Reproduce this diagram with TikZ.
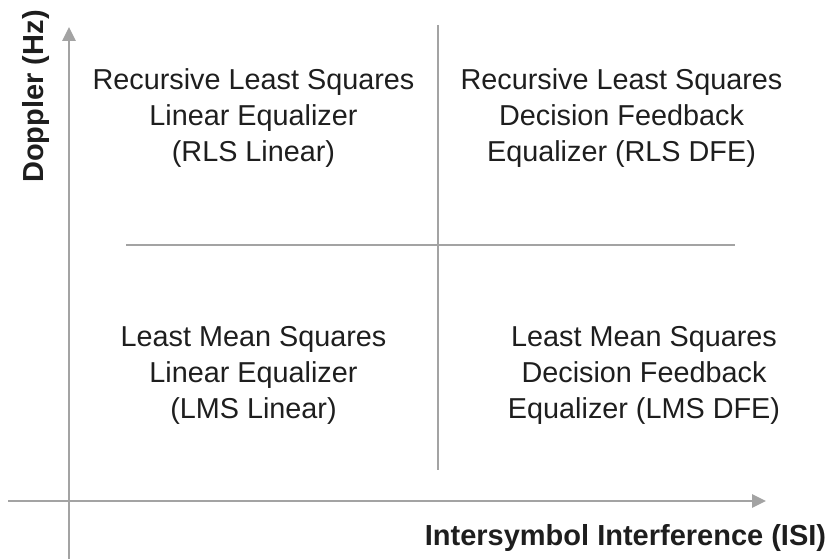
\documentclass[tikz,border=0pt]{standalone}
\usepackage{fontspec}
\setmainfont{Liberation Sans}
\usetikzlibrary{arrows.meta}
\definecolor{axisgray}{HTML}{A3A3A3}
\definecolor{txt}{HTML}{1E1E1E}
\begin{document}
\begin{tikzpicture}[x=1pt,y=-1pt,
  axis/.style={draw=axisgray,line width=2.6pt,-{Triangle[length=14pt,width=13pt]}},
  divider/.style={draw=axisgray,line width=2pt},
  quad/.style={align=center,text=txt,font=\fontsize{28.8}{36}\selectfont,inner sep=0pt},
  axlabel/.style={text=txt,font=\bfseries\fontsize{29}{34}\selectfont,inner sep=0pt}]
\useasboundingbox (0,0) rectangle (834,559);
\coordinate (ybot) at (69,559);
\coordinate (ytop) at (69,27);
\coordinate (xleft) at (8,501);
\coordinate (xright) at (766,501);
\coordinate (vtop) at (438,25);
\coordinate (vbot) at (438,470);
\coordinate (hleft) at (126,245);
\coordinate (hright) at (735,245);
\draw[axis] (ybot) -- (ytop);
\draw[axis] (xleft) -- (xright);
\draw[divider] (vtop) -- (vbot);
\draw[divider] (hleft) -- (hright);
\node[quad] (tl) at (253.5,118.5) {Recursive Least Squares\\Linear Equalizer\\(RLS Linear)};
\node[quad] (tr) at (621.5,118.5) {Recursive Least Squares\\Decision Feedback\\Equalizer (RLS DFE)};
\node[quad] (bl) at (253.5,375.5) {Least Mean Squares\\Linear Equalizer\\(LMS Linear)};
\node[quad] (br) at (644,375.5) {Least Mean Squares\\Decision Feedback\\Equalizer (LMS DFE)};
\node[axlabel,rotate=90,anchor=base] (ylab) at (43,96.5) {Doppler (Hz)};
\node[axlabel,anchor=base] (xlab) at (625.5,545) {Intersymbol Interference (ISI)};
\end{tikzpicture}
\end{document}
